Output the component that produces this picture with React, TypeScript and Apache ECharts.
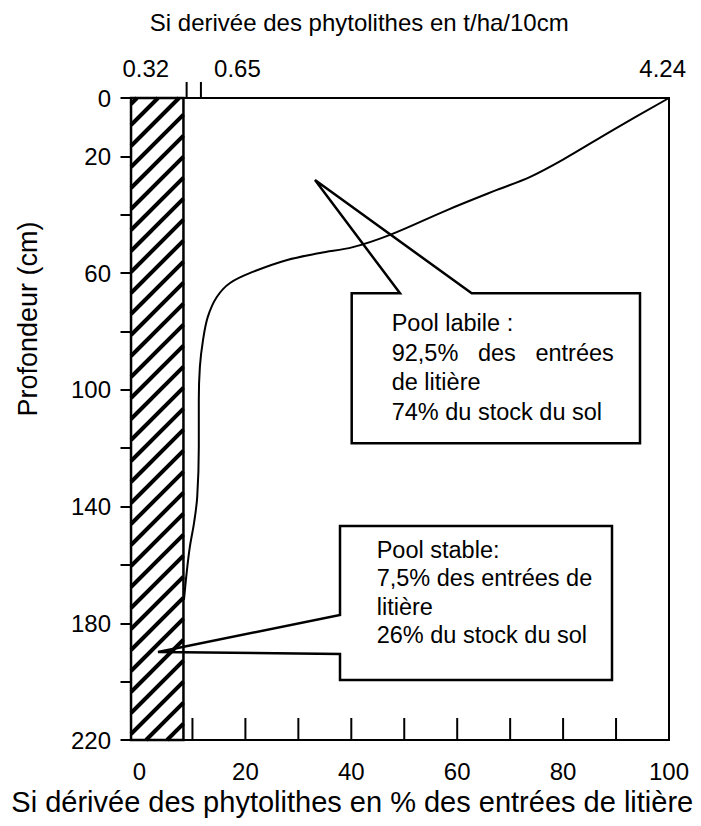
import React, { useEffect, useRef } from "react";
import * as echarts from "echarts";

// ---- data ----
const pctMin = 0;
const pctMax = 100;
const pctInterval = 10;
const pctLabelStep = 20;
const pctTickValues = [10, 20, 30, 40, 50, 60, 70, 80, 90];
const depthMax = 220;
const depthInterval = 20;
const depthLabels = [0, 20, 60, 100, 140, 180, 220];
const topTickValues = [8.9, 11.6];
const topLabelValues = [1.2, 18.5, 98.8];
const topLabels = ["0.32", "0.65", "4.24"];

// labile pool curve (% of litter inputs vs depth, cm)
const curvePct = [100, 89.4, 79.9, 73.7, 67.5, 58.1, 47.3, 40.3, 34.1, 27.9, 21.4, 17.1, 14.6, 12.9, 12.0, 11.4, 11.2, 11.2, 10.9, 10.3, 9.5, 8.9, 8.4];
const curveDepth = [0, 11.0, 21.2, 27.1, 31.5, 38.4, 46.9, 51.1, 53.1, 55.5, 59.6, 63.4, 68.2, 75.0, 82.9, 92.2, 103.5, 119.6, 136.7, 145.6, 153.9, 162.8, 172];

// stable pool (hatched bar): from left frame edge to this value
const stablePoolStart = [-1.6];
const stablePoolEdge = [8.3];

const labileText = ["Pool labile :", "92,5%   des   entrées", "de litière", "74% du stock du sol"];
const stableText = ["Pool stable:", "7,5% des entrées de", "litière", "26% du stock du sol"];

const FONT = '"Liberation Sans", Arial, Helvetica, sans-serif';

export default function App() {
  const ref = useRef<HTMLDivElement>(null);
  useEffect(() => {
    if (!ref.current) return;
    const chart = echarts.init(ref.current, undefined, { renderer: "svg" });
    const tickSeries = (values: number[], depth: number, dir: number, len: number) => ({
      type: "custom",
      xAxisIndex: 0, yAxisIndex: 0,
      data: values.map((v) => [v, depth]),
      renderItem: (params: any, api: any) => {
        const p = api.coord([api.value(0), api.value(1)]);
        return {
          type: "line",
          shape: { x1: p[0], y1: p[1], x2: p[0], y2: p[1] + dir * len },
          style: { stroke: "#000", lineWidth: 2 },
        };
      },
      silent: true,
      z: 4,
    });
    const option: any = {
      animation: false,
      backgroundColor: "#fff",
      grid: {
        left: 139.5, right: 32, top: 98, bottom: 86,
        containLabel: false, outerBoundsMode: "none",
        show: true, borderColor: "#000", borderWidth: 2, backgroundColor: "transparent",
      },
      xAxis: [
        {
          type: "value", position: "bottom", min: pctMin, max: pctMax, interval: pctInterval,
          axisLine: { show: true, lineStyle: { color: "#000", width: 2 } },
          axisTick: { show: false },
          axisLabel: {
            show: true, color: "#000", fontSize: 24, fontFamily: FONT, margin: 19,
            formatter: (v: number) => (v % pctLabelStep === 0 ? String(v) : ""),
          },
          splitLine: { show: false },
          name: "Si dérivée des phytolithes en % des entrées de litière",
          nameLocation: "middle", nameGap: 47,
          nameTextStyle: { color: "#000", fontSize: 29, fontFamily: FONT, padding: [0, 104, 0, 0] },
        },
        {
          type: "value", position: "top", min: pctMin, max: pctMax,
          axisLine: { show: true, lineStyle: { color: "#000", width: 2 } },
          axisTick: { show: false },
          axisLabel: {
            show: true, customValues: topLabelValues, color: "#000", fontSize: 24, fontFamily: FONT, margin: 18,
            formatter: (v: number) => {
              let best = 0;
              topLabelValues.forEach((t, i) => { if (Math.abs(t - v) < Math.abs(topLabelValues[best] - v)) best = i; });
              return topLabels[best];
            },
          },
          splitLine: { show: false },
          name: "Si derivée des phytolithes en t/ha/10cm",
          nameLocation: "middle", nameGap: 64,
          nameTextStyle: { color: "#000", fontSize: 24, fontFamily: FONT, padding: [0, 90, 0, 0] },
        },
      ],
      yAxis: {
        type: "value", inverse: true, min: 0, max: depthMax, interval: depthInterval, offset: 8.5,
        axisLine: { show: true, lineStyle: { color: "#000", width: 2 } },
        axisTick: { show: true, length: 19, lineStyle: { color: "#000", width: 2 } },
        axisLabel: {
          color: "#000", fontSize: 24, fontFamily: FONT, margin: 20,
          formatter: (v: number) => (depthLabels.includes(v) ? String(v) : ""),
        },
        splitLine: { show: false },
        name: "Profondeur (cm)", nameLocation: "middle", nameGap: 90, nameRotate: 90,
        nameTextStyle: { color: "#000", fontSize: 27, fontFamily: FONT, padding: [0, 0, 0, 200] },
      },
      series: [
        {
          type: "custom",
          xAxisIndex: 0, yAxisIndex: 0,
          data: stablePoolEdge.map((e, i) => [stablePoolStart[i], e, depthMax]),
          renderItem: (params: any, api: any) => {
            const tl = api.coord([api.value(0), 0]);
            const br = api.coord([api.value(1), api.value(2)]);
            const x0 = tl[0], y0 = tl[1], x1 = br[0], y1 = br[1];
            const children: any[] = [
              { type: "rect", shape: { x: x0, y: y0, width: x1 - x0, height: y1 - y0 }, style: { fill: "#fff", stroke: "none" } },
            ];
            const step = 21;
            for (let c = x0 + y0 + 6; c < x1 + y1; c += step) {
              const xa = Math.max(x0, c - y1);
              const xb = Math.min(x1, c - y0);
              if (xb <= xa) continue;
              children.push({ type: "line", shape: { x1: xa, y1: c - xa, x2: xb, y2: c - xb }, style: { stroke: "#000", lineWidth: 4 } });
            }
            children.push({ type: "rect", shape: { x: x0, y: y0, width: x1 - x0, height: y1 - y0 }, style: { fill: "none", stroke: "#000", lineWidth: 2.5 } });
            return { type: "group", children };
          },
          z: 2,
        },
        tickSeries(pctTickValues, depthMax, -1, 22),
        tickSeries(topTickValues, 0, -1, 16),
        {
          type: "line",
          xAxisIndex: 0, yAxisIndex: 0,
          data: curvePct.map((x, i) => [x, curveDepth[i]]),
          smooth: 0.35,
          symbol: "none",
          lineStyle: { color: "#000", width: 2 },
          z: 3,
        },
      ],
      graphic: [
        {
          type: "polygon",
          shape: { points: [[351.7, 293.3], [400, 293.3], [315, 180], [471.7, 293.3], [640, 293.3], [640, 443.3], [351.7, 443.3]] },
          style: { fill: "none", stroke: "#000", lineWidth: 2.5 },
          z: 10,
        },
        {
          type: "text", x: 391.7, y: 308.5, z: 10,
          style: { text: labileText.join("\n"), fontSize: 23.5, lineHeight: 29.5, fontFamily: FONT, fill: "#000", verticalAlign: "top", align: "left" },
        },
        {
          type: "polygon",
          shape: { points: [[340, 526], [612, 526], [612, 680], [340, 680], [340, 654], [158, 652], [340, 615]] },
          style: { fill: "none", stroke: "#000", lineWidth: 2.5 },
          z: 10,
        },
        {
          type: "text", x: 376.7, y: 535.7, z: 10,
          style: { text: stableText.join("\n"), fontSize: 23.5, lineHeight: 28.5, fontFamily: FONT, fill: "#000", verticalAlign: "top", align: "left" },
        },
      ],
    };
    chart.setOption(option);
    return () => chart.dispose();
  }, []);
  return <div ref={ref} style={{ position: "fixed", left: 0, top: 0, width: 701, height: 826 }} />;
}
